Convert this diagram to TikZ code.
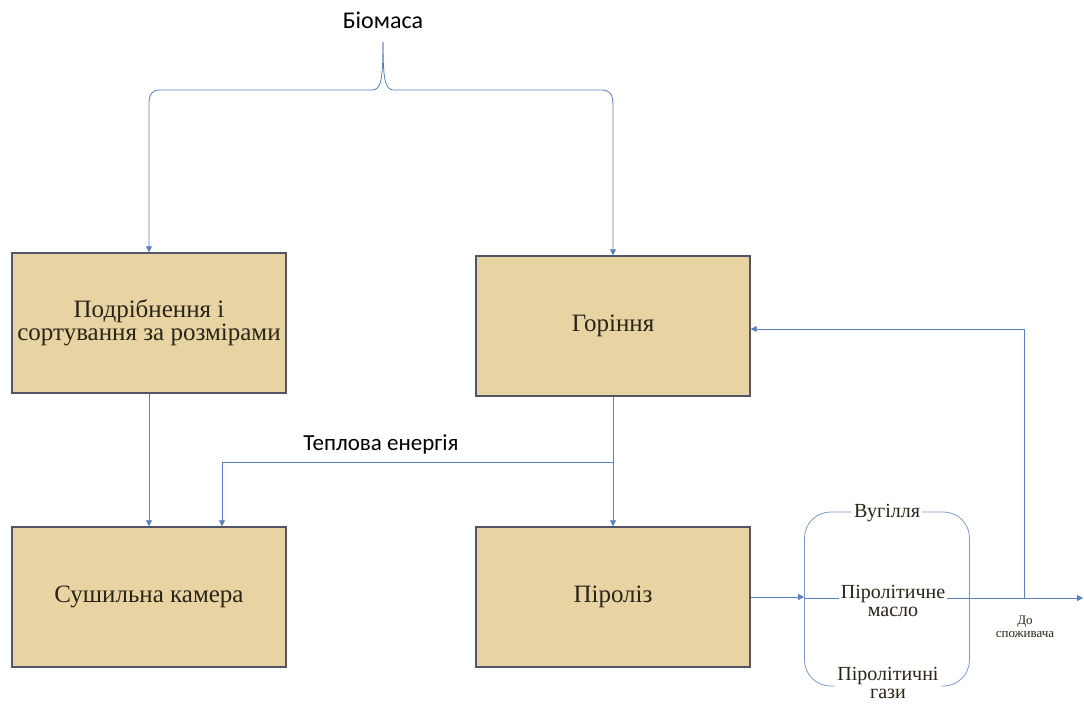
\documentclass[tikz,border=0pt]{standalone}
\usepackage{fontspec}
\setmainfont{Liberation Serif}
\newfontfamily\calibri{Carlito}
\usepackage{xcolor}
\usetikzlibrary{arrows.meta}
\definecolor{flowblue}{HTML}{5B7FC4}
\definecolor{papyrus}{HTML}{E8D3A2}
\definecolor{frame}{HTML}{55556A}
\definecolor{ink}{HTML}{2A2418}
\tikzset{
  stage/.style={draw=frame, line width=1.4pt, fill=papyrus, text=ink, minimum width=274pt, minimum height=140pt, align=center, font=\fontsize{25}{23}\selectfont},
  flow/.style={flowblue, line width=0.8pt, -{Triangle[width=6pt,length=6pt]}},
  prodtext/.style={fill=white, inner sep=2pt, align=center, text=ink, font=\fontsize{20}{18}\selectfont}
}

\begin{document}
\begin{tikzpicture}[x=1pt, y=-1pt]
  \useasboundingbox (0,0) rectangle (1084,704);
  % stages
  \node[stage] (grind) at (149,323) {Подрібнення і\\сортування за розмірами};
  \node[stage] (comb) at (613,326) {Горіння};
  \node[stage] (dry) at (149,597) {Сушильна камера};
  \node[stage] (pyro) at (613,597) {Піроліз};
  % biomass brace
  \node[font=\calibri\fontsize{24}{26}\selectfont] (bio) at (383,20) {Біомаса};
  \coordinate (tip) at (383,42);
  \draw[flow] (tip) .. controls (383,80) and (381,90) .. (372,90) -- (160,90) .. controls (152,90) and (149,94) .. (149,104) -- (grind.north);
  \draw[flow] (tip) .. controls (383,80) and (385,90) .. (394,90) -- (601,90) .. controls (610,90) and (613,94) .. (613,106) -- (comb.north);
  % drying and pyrolysis
  \draw[flow] (grind.south) -- (dry.north);
  \draw[flow] (comb.south) -- (pyro.north);
  \coordinate (heat) at (613,462);
  \coordinate (heatin) at (222,462);
  \draw[flow] (heat) -- (heatin) -- (heatin |- dry.north);
  \node[font=\calibri\fontsize{23}{25}\selectfont] (heatlbl) at (381,444) {Теплова енергія};
  % products
  \node[draw=flowblue!80, line width=0.8pt, rounded corners=26pt, minimum width=165pt, minimum height=174pt] (prod) at (887,599) {};
  \draw[flow] (pyro.east) -- (pyro.east -| prod.west);
  \coordinate (out) at (1083,598);
  \draw[flow] (prod.west |- out) -- (out);
  \coordinate (split) at (1024,598);
  \coordinate (ret) at (1024,329);
  \draw[flow] (split) -- (ret) -- (ret -| comb.east);
  \node[prodtext] (coal) at (887,513) {Вугілля};
  \node[prodtext] (oil) at (893,601) {Піролітичне\\масло};
  \node[prodtext] (gas) at (888,683) {Піролітичні\\гази};
  \node[align=center, text=ink, font=\fontsize{13}{13}\selectfont] (user) at (1025,627) {До\\споживача};
\end{tikzpicture}
\end{document}
